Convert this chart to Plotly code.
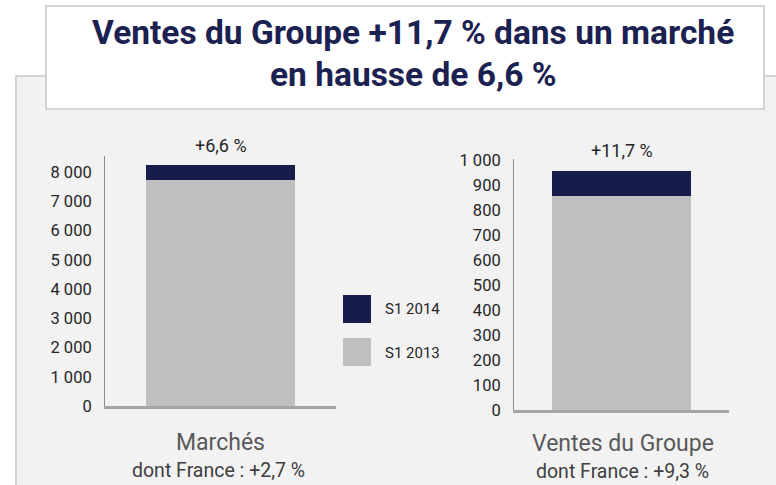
import plotly.graph_objects as go

W, H = 776, 485

# ---- data ----
categories = ["Marchés", "Ventes du Groupe"]
subtitles = ["dont France : +2,7 %", "dont France : +9,3 %"]
growth_labels = ["+6,6 %", "+11,7 %"]
s1_2013 = [7720, 858]
s1_2014 = [8230, 958]
series_names = ["S1 2013", "S1 2014"]
left_ticks = [0, 1000, 2000, 3000, 4000, 5000, 6000, 7000, 8000]
left_ticktext = ["0", "1 000", "2 000", "3 000", "4 000", "5 000", "6 000", "7 000", "8 000"]
right_ticks = [0, 100, 200, 300, 400, 500, 600, 700, 800, 900, 1000]
right_ticktext = ["0", "100", "200", "300", "400", "500", "600", "700", "800", "900", "1 000"]
title_lines = ["Ventes du Groupe +11,7 % dans un marché", "en hausse de 6,6 %"]

NAVY = "#161d4b"
GREY = "#bfbfbf"
FONT = "Roboto, Liberation Sans, Arial, sans-serif"


def fx(px):
    return px / W


def fy(py):
    return 1 - py / H


fig = go.Figure()

axes = [("x", "y"), ("x2", "y2")]
for i, (xa, ya) in enumerate(axes):
    fig.add_trace(go.Bar(x=[categories[i]], y=[s1_2013[i]], marker_color=GREY,
                         name=series_names[0], xaxis=xa, yaxis=ya, width=0.645,
                         showlegend=False, marker_line_width=0, hoverinfo="skip"))
    fig.add_trace(go.Bar(x=[categories[i]], y=[s1_2014[i] - s1_2013[i]], marker_color=NAVY,
                         name=series_names[1], xaxis=xa, yaxis=ya, width=0.645,
                         showlegend=False, marker_line_width=0, hoverinfo="skip"))

shapes = [
    # grey panel
    dict(type="rect", xref="paper", yref="paper", x0=fx(16), x1=fx(790), y0=fy(500), y1=fy(76),
         fillcolor="#f2f2f2", line=dict(color="#c8c8c8", width=1.5), layer="below"),
    # title box
    dict(type="rect", xref="paper", yref="paper", x0=fx(46), x1=fx(764), y0=fy(109), y1=fy(6),
         fillcolor="white", line=dict(color="#c8c8c8", width=1.5), layer="below"),
    # legend swatches
    dict(type="rect", xref="paper", yref="paper", x0=fx(343), x1=fx(371), y0=fy(323), y1=fy(295),
         fillcolor=NAVY, line=dict(width=0)),
    dict(type="rect", xref="paper", yref="paper", x0=fx(343), x1=fx(371), y0=fy(366), y1=fy(338),
         fillcolor=GREY, line=dict(width=0)),
]

TITLE_FONT = dict(family=FONT, size=33.5, color="#1b2150", weight="bold")
annotations = [
    dict(text=title_lines[0], xref="paper", yref="paper", x=fx(413), y=fy(33), showarrow=False,
         font=TITLE_FONT, xanchor="center", yanchor="middle"),
    dict(text=title_lines[1], xref="paper", yref="paper", x=fx(413), y=fy(74), showarrow=False,
         font=TITLE_FONT, xanchor="center", yanchor="middle"),
    dict(text=series_names[1], xref="paper", yref="paper", x=fx(383), y=fy(309), showarrow=False,
         font=dict(family=FONT, size=15, color="#262626"), xanchor="left", yanchor="middle"),
    dict(text=series_names[0], xref="paper", yref="paper", x=fx(383), y=fy(353), showarrow=False,
         font=dict(family=FONT, size=15, color="#262626"), xanchor="left", yanchor="middle"),
]

cat_centers = [(220, 442, 218, 470), (623, 443, 622, 471)]
for i, (xa, ya) in enumerate(axes):
    annotations.append(dict(text=growth_labels[i], xref=xa, yref=ya, x=categories[i], y=s1_2014[i],
                            yanchor="bottom", yshift=7, showarrow=False,
                            font=dict(family=FONT, size=18, color="#262626")))
    cx, cy, sx, sy = cat_centers[i]
    annotations.append(dict(text=categories[i], xref="paper", yref="paper", x=fx(cx), y=fy(cy),
                            showarrow=False, xanchor="center", yanchor="middle",
                            font=dict(family=FONT, size=23, color="#595959")))
    annotations.append(dict(text=subtitles[i], xref="paper", yref="paper", x=fx(sx), y=fy(sy),
                            showarrow=False, xanchor="center", yanchor="middle",
                            font=dict(family=FONT, size=19.5, color="#404040")))

xcommon = dict(type="category", range=[-0.5, 0.5], showticklabels=False, ticks="",
               showline=True, linecolor="#a6a6a6", linewidth=3, showgrid=False, zeroline=False,
               fixedrange=True, automargin=False)
ycommon = dict(showline=True, linecolor="#8c8c8c", linewidth=1, showgrid=False, zeroline=False,
               ticks="", tickfont=dict(family=FONT, size=16.5, color="#262626"), ticklabelstandoff=9,
               automargin=False, fixedrange=True)

fig.update_layout(
    width=W, height=H,
    autosize=False,
    margin=dict(l=0, r=0, t=0, b=0, pad=0),
    paper_bgcolor="white",
    plot_bgcolor="rgba(0,0,0,0)",
    barmode="stack",
    bargap=0,
    showlegend=False,
    hovermode=False,
    shapes=shapes,
    annotations=annotations,
    xaxis=dict(domain=[fx(105), fx(336)], anchor="y", **xcommon),
    xaxis2=dict(domain=[fx(514), fx(729)], anchor="y2", **xcommon),
    yaxis=dict(domain=[fy(406), fy(156)], anchor="x", range=[0, 8550],
               tickvals=left_ticks, ticktext=left_ticktext, **ycommon),
    yaxis2=dict(domain=[fy(410), fy(159)], anchor="x2", range=[0, 1004],
                tickvals=right_ticks, ticktext=right_ticktext, **ycommon),
)

fig.write_html("out.html", config={"displayModeBar": False, "responsive": False},
               post_script="document.body.style.margin='0';document.body.style.overflow='hidden';")
